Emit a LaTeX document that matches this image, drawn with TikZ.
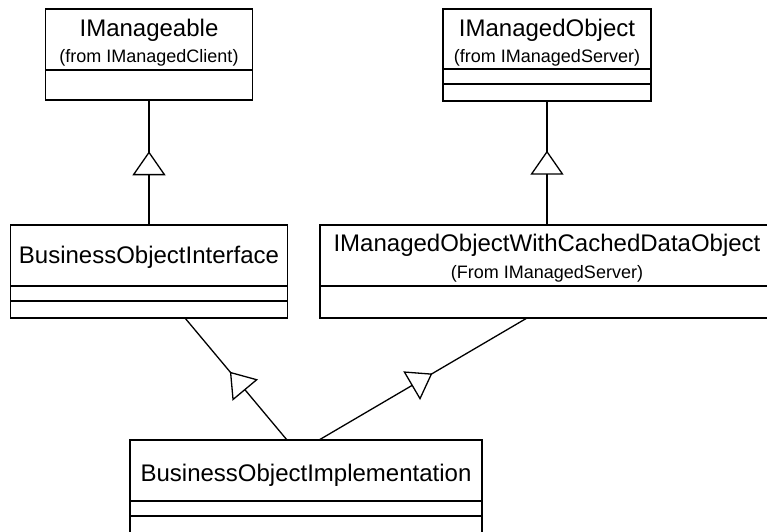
\documentclass[tikz,border=0pt]{standalone}
\usepackage{fontspec}
\setmainfont{Liberation Sans}
\usetikzlibrary{positioning,arrows.meta,decorations.markings}

\begin{document}
\begin{tikzpicture}[
    x=1pt, y=-1pt,
    % Class boxes and their empty compartments
    classname/.style={rectangle, draw=black, fill=white, line width=1.3pt, outer sep=0pt, inner ysep=2pt, minimum height=61pt, align=center, text height=19pt, text depth=1pt, font=\fontsize{24}{26}\selectfont},
    compartment/.style={rectangle, draw=black, fill=white, line width=1.3pt, outer sep=0pt},
    % Generalization with the open triangle half way along
    generalize/.style={line width=1.3pt, postaction={decorate}, decoration={markings, mark=at position #1 with {\arrow{Triangle[length=24pt, width=33pt, fill=white, line width=1.3pt]}}}},
    generalize/.default=0.57
]
\useasboundingbox (0,0) rectangle (767,531);

% IManageable
\node[classname, minimum width=207pt, text height=47pt, text depth=2pt] (manageable) at (149, 39.5) {IManageable\\{\fontsize{18}{20}\selectfont (from IManagedClient)}};
\node[compartment, minimum width=207pt, minimum height=30pt, below=0pt of manageable] (manageable_ops) {};

% IManagedObject
\node[classname, minimum width=208pt, minimum height=60pt, text height=48pt, text depth=2pt] (managedobj) at (547, 39) {IManagedObject\\{\fontsize{18}{20}\selectfont (from IManagedServer)}};
\node[compartment, minimum width=208pt, minimum height=15pt, below=0pt of managedobj] (managedobj_attr) {};
\node[compartment, minimum width=208pt, minimum height=17pt, below=0pt of managedobj_attr] (managedobj_ops) {};

% BusinessObjectInterface
\node[classname, minimum width=277pt, text height=17pt, text depth=2pt] (boi) at (149, 255.5) {BusinessObjectInterface};
\node[compartment, minimum width=277pt, minimum height=15pt, below=0pt of boi] (boi_attr) {};
\node[compartment, minimum width=277pt, minimum height=17pt, below=0pt of boi_attr] (boi_ops) {};

% IManagedObjectWithCachedDataObject
\node[classname, minimum width=454pt, text height=46pt, text depth=1pt] (cached) at (547, 255.5) {IManagedObjectWithCachedDataObject\\[1pt]{\fontsize{18}{20}\selectfont (From IManagedServer)}};
\node[compartment, minimum width=454pt, minimum height=32pt, below=0pt of cached] (cached_ops) {};

% BusinessObjectImplementation
\node[classname, minimum width=352pt, text height=21pt, text depth=0pt] (boimpl) at (306, 470.5) {BusinessObjectImplementation};
\node[compartment, minimum width=352pt, minimum height=15pt, below=0pt of boimpl] (boimpl_attr) {};
\node[compartment, minimum width=352pt, minimum height=30pt, below=0pt of boimpl_attr] (boimpl_ops) {};

% Generalizations
\draw[generalize=0.59] (boi.north) -- (manageable_ops.south);
\draw[generalize=0.6] (cached.north) -- (managedobj_ops.south);
\draw[generalize=0.56] ([xshift=-19pt]boimpl.north) -- ([xshift=36pt]boi_ops.south);
\draw[generalize=0.545] ([xshift=13pt]boimpl.north) -- ([xshift=-20pt]cached_ops.south);

\end{tikzpicture}
\end{document}
